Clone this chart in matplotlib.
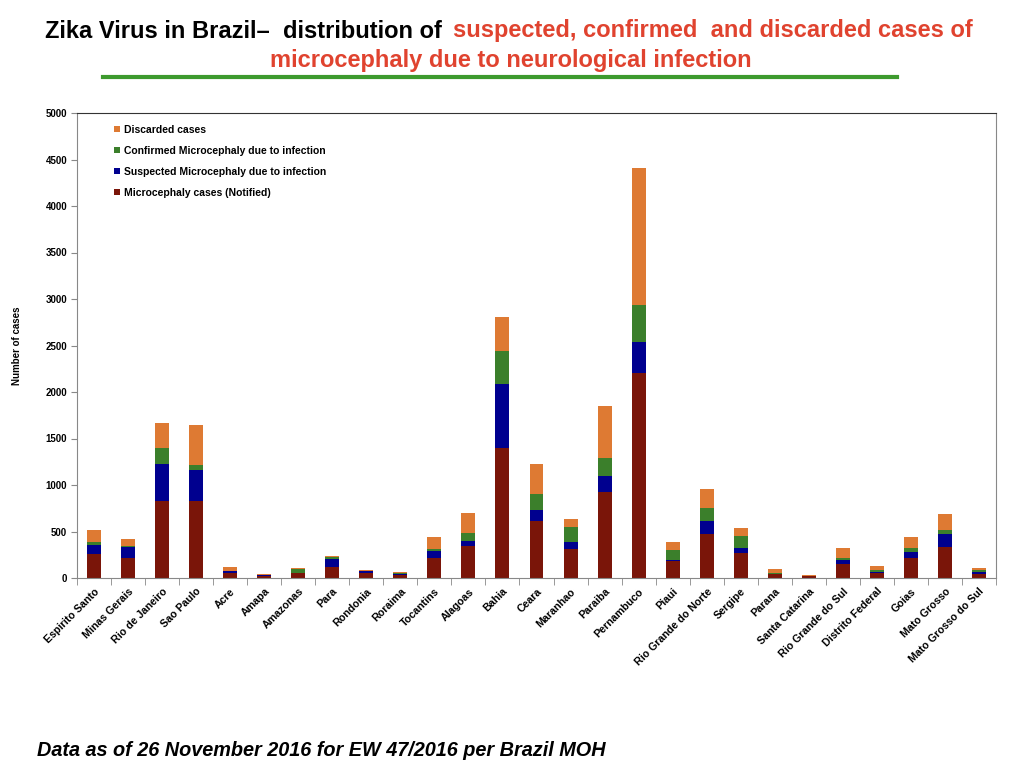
import matplotlib
matplotlib.use("Agg")
import matplotlib.pyplot as plt
import numpy as np

plt.rcParams["font.family"] = ["Liberation Sans", "DejaVu Sans"]

states = ["Espirito Santo", "Minas Gerais", "Rio de Janeiro", "Sao Paulo", "Acre",
          "Amapa", "Amazonas", "Para", "Rondonia", "Roraima", "Tocantins", "Alagoas",
          "Bahia", "Ceara", "Maranhao", "Paraiba", "Pernambuco", "Piaui",
          "Rio Grande do Norte", "Sergipe", "Parana", "Santa Catarina",
          "Rio Grande do Sul", "Distrito Federal", "Goias", "Mato Grosso",
          "Mato Grosso do Sul"]

notified = [262, 216, 833, 826, 55, 25, 50, 114, 50, 35, 211, 348, 1397, 614, 313, 923,
            2200, 182, 474, 266, 43, 18, 155, 55, 216, 338, 47]
suspected = [89, 120, 396, 334, 15, 8, 8, 91, 20, 8, 83, 47, 687, 122, 71, 172,
             340, 12, 137, 57, 5, 2, 43, 10, 64, 136, 14]
confirmed = [37, 10, 165, 51, 5, 3, 35, 17, 5, 12, 19, 90, 359, 162, 161, 191,
             395, 105, 144, 130, 6, 4, 18, 18, 40, 43, 25]
discarded = [133, 78, 269, 434, 40, 7, 15, 18, 14, 10, 125, 219, 363, 331, 91, 561,
             1475, 85, 201, 83, 43, 6, 107, 43, 126, 166, 22]

c_red = "#7a1509"
c_blue = "#00008f"
c_green = "#3b7f2b"
c_orange = "#de7a33"

fig = plt.figure(figsize=(10.24, 7.68), dpi=100)
ax = fig.add_axes([77/1024, 1-578/768, (996-77)/1024, (578-113)/768])

x = np.arange(len(states))
w = 0.41
b1 = np.array(notified)
b2 = b1 + np.array(suspected)
b3 = b2 + np.array(confirmed)
h1 = ax.bar(x, notified, w, color=c_red, label="Microcephaly cases (Notified)")
h2 = ax.bar(x, suspected, w, bottom=b1, color=c_blue, label="Suspected Microcephaly due to infection")
h3 = ax.bar(x, confirmed, w, bottom=b2, color=c_green, label="Confirmed Microcephaly due to infection")
h4 = ax.bar(x, discarded, w, bottom=b3, color=c_orange, label="Discarded cases")

ax.set_xlim(-0.5, len(states) - 0.5)
ax.set_ylim(0, 5000)
ax.set_yticks(np.arange(0, 5001, 500))
ax.set_yticklabels([str(v) for v in range(0, 5001, 500)], fontsize=7, fontweight="bold")
ax.set_xticks(x)
ax.set_xticklabels(states, rotation=45, ha="right", rotation_mode="anchor",
                   fontsize=7.7, fontweight="bold")
ax.tick_params(axis="x", length=0, pad=6)
ax.set_xticks(np.arange(-0.5, len(states), 1), minor=True)
ax.tick_params(axis="x", which="minor", length=5, color="#888888")
ax.tick_params(axis="y", length=4, color="#888888", pad=3)
for s in ["left", "bottom", "right"]:
    ax.spines[s].set_color("#888888")
ax.spines["top"].set_color("#333333")
ax.set_ylabel("Number of cases", fontsize=7, fontweight="bold")
ax.yaxis.set_label_coords(-0.06, 0.5)

ax.legend(handles=[h4, h3, h2, h1], loc="upper left", bbox_to_anchor=(0.03, 0.995),
          frameon=False, prop={"size": 7.5, "weight": "bold"},
          handlelength=0.6, handleheight=0.6, handletextpad=0.4, labelspacing=1.05)

fig.text(442/1024, 1-31/768, "Zika Virus in Brazil\u2013  distribution of", ha="right",
         va="center", fontsize=17, fontweight="bold", color="black")
fig.text(453/1024, 1-31/768, "suspected, confirmed  and discarded cases of", ha="left",
         va="center", fontsize=17, fontweight="bold", color="#e0432f")
fig.text(511/1024, 1-61/768, "microcephaly due to neurological infection", ha="center",
         va="center", fontsize=17, fontweight="bold", color="#e0432f")
fig.add_artist(plt.Line2D([103/1024, 897/1024], [1-77/768, 1-77/768],
                          color="#3d9a2e", linewidth=3))

fig.text(37/1024, 1-750/768, "Data as of 26 November 2016 for EW 47/2016 per Brazil MOH",
         ha="left", va="center", fontsize=14.3, fontweight="bold", style="italic")

fig.savefig("out.png", dpi=100)
